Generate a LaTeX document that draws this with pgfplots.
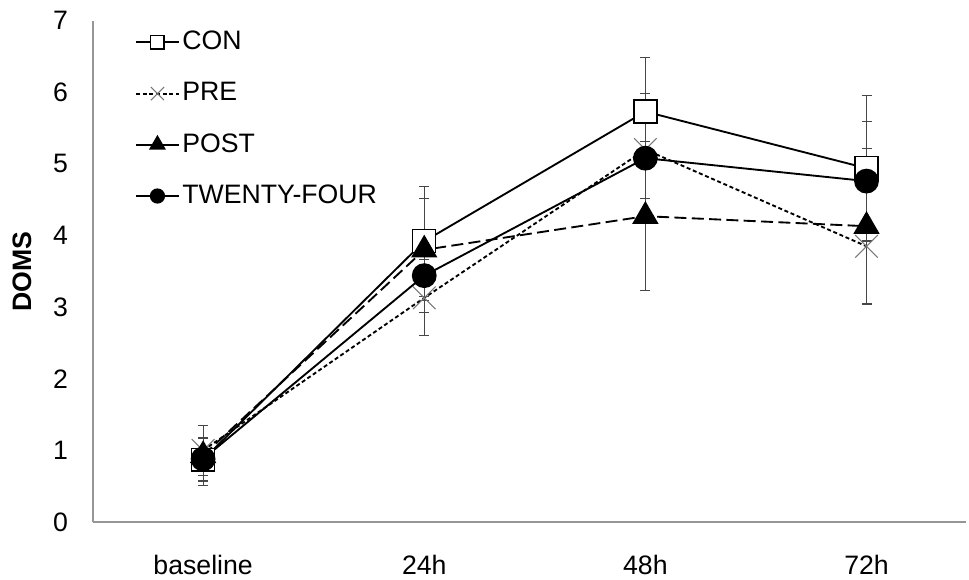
\documentclass[border=0pt]{standalone}
\usepackage{fontspec}
\setmainfont{Liberation Sans}
\usepackage{pgfplots}
\pgfplotsset{compat=1.18}
\definecolor{axgray}{RGB}{150,150,150}
\definecolor{errgray}{RGB}{70,70,70}
\definecolor{xgray}{RGB}{120,120,120}
\pgfplotsset{mylegend/.style={legend image code/.code={\draw[mark repeat=2,mark phase=2,##1, mark size=#1] plot coordinates {(0pt,0pt) (16pt,0pt) (32pt,0pt)};}},
  mylegendsolid/.style={legend image code/.code={\draw[mark repeat=2,mark phase=2,##1, solid, mark size=#1] plot coordinates {(0pt,0pt) (16pt,0pt) (32pt,0pt)};}}}
\begin{document}
\fontsize{20pt}{24pt}\selectfont
\begin{tikzpicture}
\path[use as bounding box] (-69.75pt,-42.75pt) rectangle (657pt,391.5pt);
\begin{axis}[
  at={(0pt,0pt)}, anchor=south west,
  scale only axis, width=654.75pt, height=376pt,
  xmin=-0.498, xmax=3.45, ymin=0, ymax=7,
  axis x line*=bottom, axis y line*=left,
  axis line style={draw=axgray, line width=0.9pt},
  xtick={0,1,2,3}, xticklabels={baseline,24h,48h,72h},
  ytick={0,1,...,7},
  major tick length=0pt,
  tick label style={font=\fontsize{20pt}{24pt}\selectfont},
  /pgf/number format/assume math mode=true,
  yticklabel style={xshift=-12pt},
  xticklabel style={yshift=-18pt},
  ylabel={\textbf{DOMS}},
  ylabel style={at={(axis description cs:-0.0813,0.5)}, anchor=center, font=\fontsize{20pt}{24pt}\selectfont},
  legend cell align=left,
  legend style={draw=none, fill=none, at={(axis description cs:0.048,0.985)}, anchor=north west,
    font=\fontsize{20pt}{24pt}\selectfont, row sep=17.5pt, inner sep=0pt},
  error bars/y dir=both, error bars/y explicit,
  error bars/error bar style={solid, line width=0.75pt, draw=errgray},
  error bars/error mark options={solid, draw=errgray, line width=0.75pt, mark size=3.75pt, rotate=90},
]
\addplot[black, line width=1.4pt, mark=square*, mark size=8.6pt,
  mark options={solid, fill=white, draw=black, line width=1pt}, mylegend=5pt]
  coordinates {(0,0.87) +- (0,0.30) (1,3.92) +- (0,0.77) (2,5.73) +- (0,0.76) (3,4.94) +- (0,1.02)};
\addlegendentry{CON}
\addplot[black, line width=1.4pt, dash pattern=on 3pt off 2pt, mark=x, mark size=12pt,
  mark options={solid, draw=xgray, line width=0.8pt}, mylegend=7pt]
  coordinates {(0,1.00) +- (0,0.35) (1,3.13) +- (0,0.53) (2,5.20) +- (0,0.68) (3,3.85) +- (0,0.80)};
\addlegendentry{PRE}
\addplot[black, line width=1.4pt, dash pattern=on 9pt off 4pt, mark=triangle*, mark size=10pt,
  mark options={solid, fill=black, draw=black}, mylegendsolid=6pt]
  coordinates {(0,0.93) +- (0,0.42) (1,3.80) +- (0,0.71) (2,4.27) +- (0,1.04) (3,4.13) +- (0,1.09)};
\addlegendentry{POST}
\addplot[black, line width=1.4pt, mark=*, mark size=8.6pt,
  mark options={solid, fill=black, draw=black}, mylegend=5pt]
  coordinates {(0,0.88) +- (0,0.30) (1,3.44) +- (0,0.52) (2,5.08) +- (0,0.91) (3,4.76) +- (0,0.83)};
\addlegendentry{TWENTY-FOUR}
\end{axis}
\end{tikzpicture}
\end{document}
